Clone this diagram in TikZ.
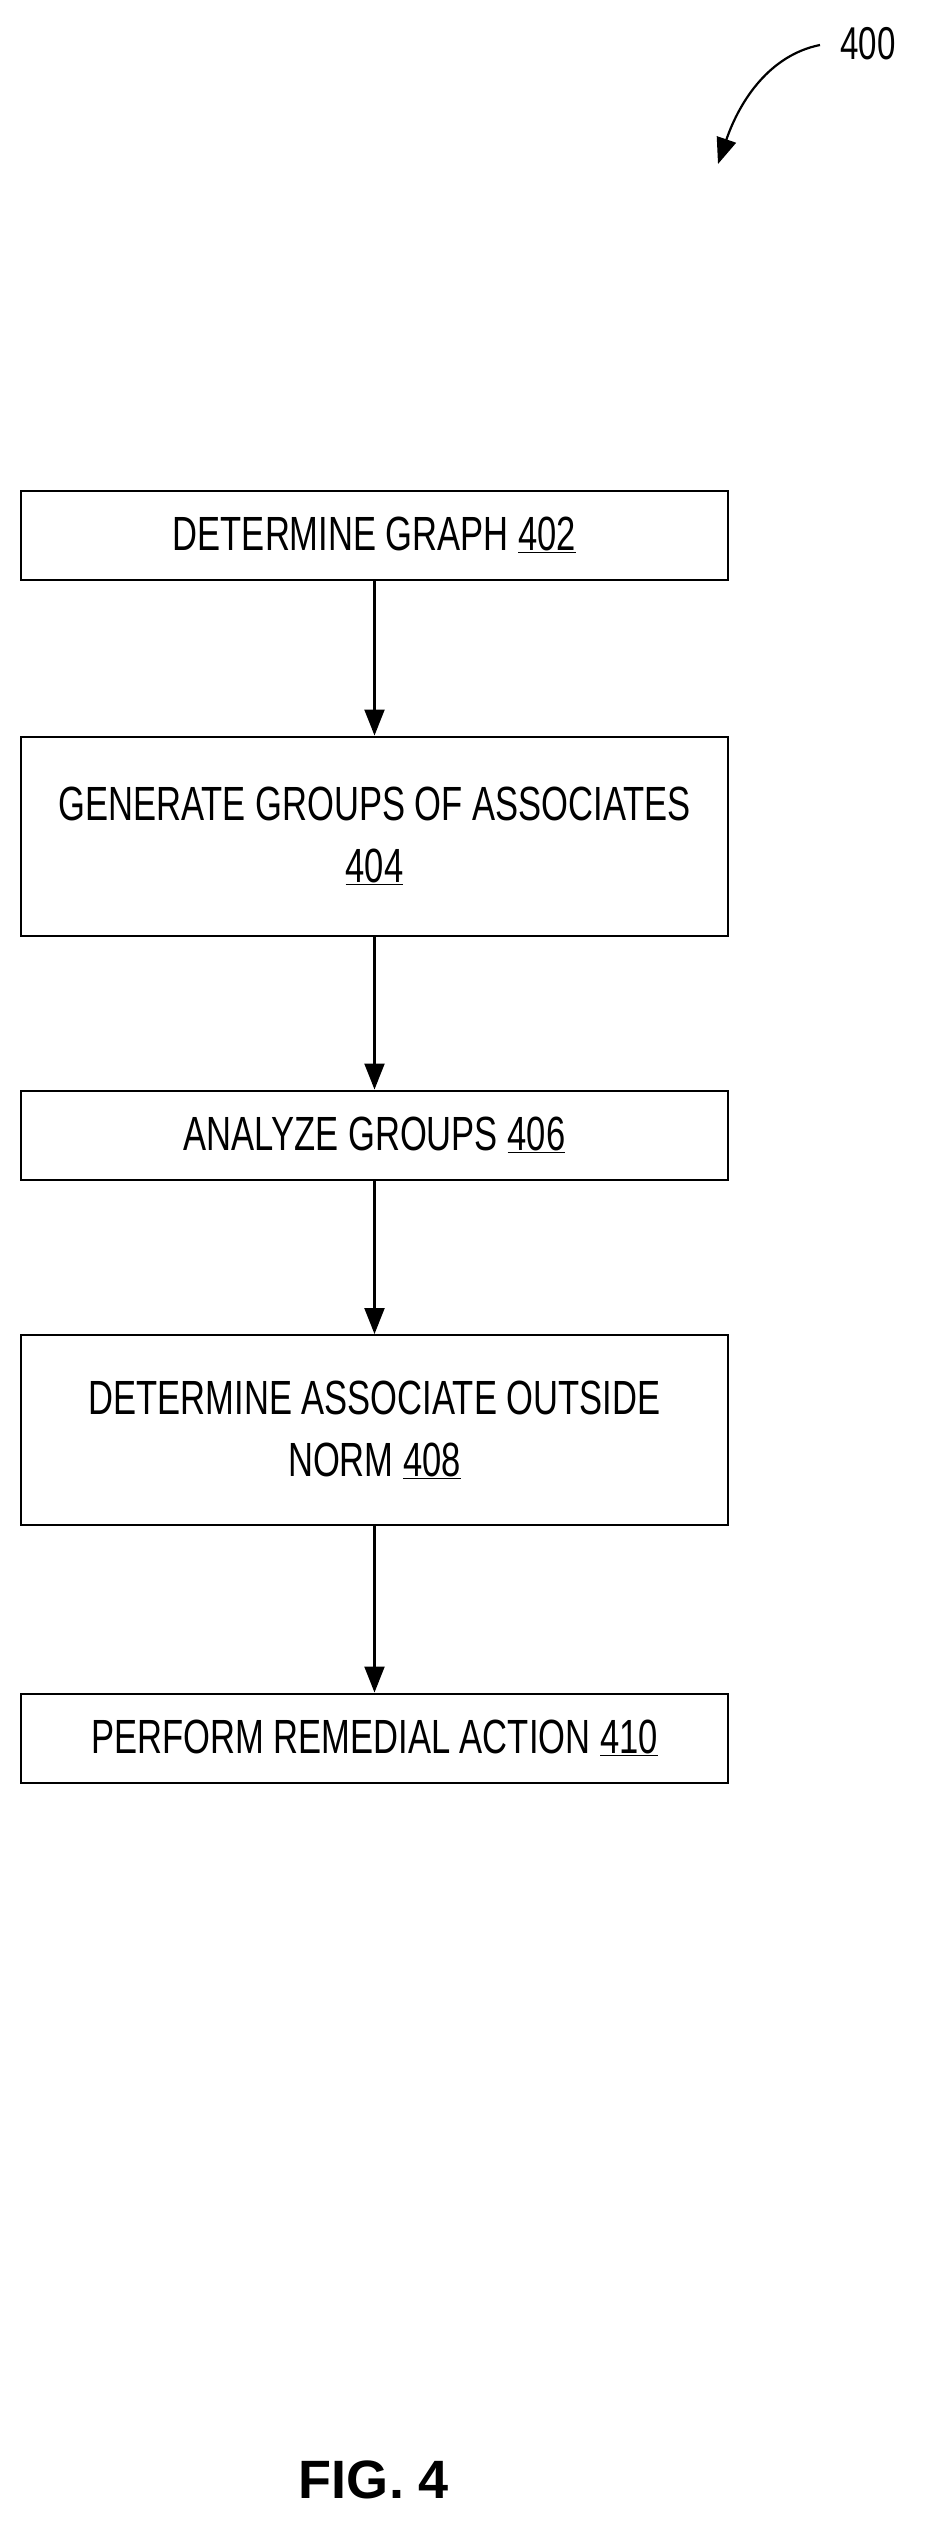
\documentclass[tikz,border=0pt]{standalone}
\usepackage{fontspec}
\setmainfont{Liberation Sans}[FakeStretch=0.72]
\newfontfamily\figfont{Liberation Sans}
\usetikzlibrary{arrows.meta}
\begin{document}
\begin{tikzpicture}[x=1pt,y=-1pt,
  box/.style={draw,line width=2pt,minimum width=707pt,align=center,font=\fontsize{48}{62}\selectfont,inner sep=0pt},
  arr/.style={line width=2.2pt,-{Triangle[length=26pt,width=20pt]}}]
\useasboundingbox (0,0) rectangle (924,2535);
\node[box,minimum height=89pt] (b1) at (374.5,535) {DETERMINE GRAPH \underline{402}};
\node[box,minimum height=199pt] (b2) at (374.5,836) {GENERATE GROUPS OF ASSOCIATES\\\underline{404}};
\node[box,minimum height=89pt] (b3) at (374.5,1135) {ANALYZE GROUPS \underline{406}};
\node[box,minimum height=190pt] (b4) at (374.5,1430) {DETERMINE ASSOCIATE OUTSIDE\\NORM \underline{408}};
\node[box,minimum height=89pt] (b5) at (374.5,1738) {PERFORM REMEDIAL ACTION \underline{410}};
\draw[arr] (b1) -- (b2);
\draw[arr] (b2) -- (b3);
\draw[arr] (b3) -- (b4);
\draw[arr] (b4) -- (b5);
\node[font=\fontsize{46}{52}\selectfont] (lbl) at (868,44) {400};
\coordinate (s) at (820,45);
\coordinate (e) at (718,164);
\draw[arr] (s) .. controls (770,55) and (740,100) .. (e);
\node[font=\figfont\bfseries\fontsize{54}{60}\selectfont] (fig) at (374,2480) {FIG. 4};
\end{tikzpicture}
\end{document}
